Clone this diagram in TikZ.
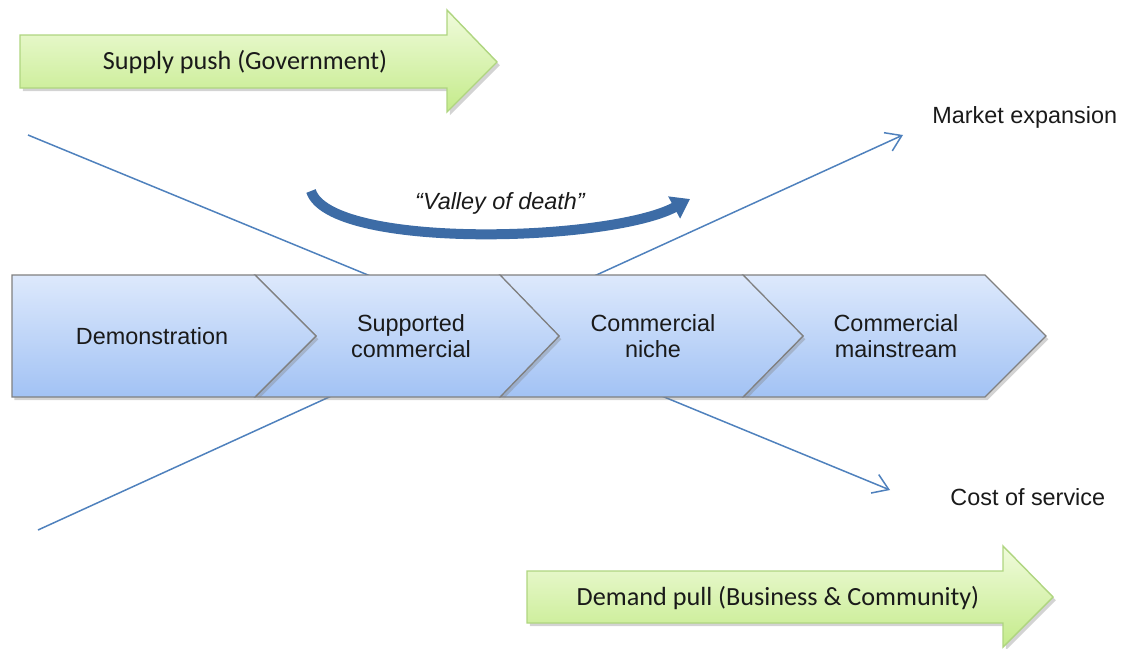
\documentclass[tikz,border=0pt]{standalone}
\usepackage{fontspec}
\setmainfont{Liberation Sans}
\newfontfamily\calibri{Carlito}
\usetikzlibrary{arrows.meta,shadows}
\definecolor{lineblue}{HTML}{4F81BD}
\definecolor{valleyblue}{HTML}{3D6CA6}
\definecolor{chevtop}{HTML}{DDE9FC}
\definecolor{chevbot}{HTML}{A2C2F4}
\definecolor{chevedge}{HTML}{808080}
\definecolor{greentop}{HTML}{F0FBDC}
\definecolor{greenbot}{HTML}{C4EB8A}
\definecolor{greenedge}{HTML}{AFD580}
\definecolor{ink}{HTML}{1A1A1A}
\tikzset{
  chevron/.style={draw=chevedge, line width=0.6pt, top color=chevtop, bottom color=chevbot,
    line join=miter, drop shadow={opacity=0.35, shadow xshift=1.2pt, shadow yshift=-1.6pt}},
  greenarrow/.style={draw=greenedge, line width=0.7pt, top color=greentop, bottom color=greenbot,
    drop shadow={opacity=0.35, shadow xshift=1.4pt, shadow yshift=-1.6pt}},
  stagetext/.style={text=ink, font=\fontsize{11.7pt}{13.2pt}\selectfont, align=center},
  labeltext/.style={text=ink, font=\fontsize{11.7pt}{13.2pt}\selectfont, anchor=west, inner sep=0pt},
  greentext/.style={text=ink, font=\calibri\fontsize{13.1pt}{15pt}\selectfont},
  trend/.style={draw=lineblue, line width=0.75pt, -{Straight Barb[length=7.5pt,width=10pt]}},
}
\begin{document}
\begin{tikzpicture}[x=0.5pt, y=-0.5pt]
\useasboundingbox (0,0) rectangle (1124,648);

% crossing trend lines (behind the stage band)
\coordinate (s1) at (28,135);
\coordinate (e1) at (890,490);
\coordinate (s2) at (38,530);
\coordinate (e2) at (903,135);
\draw[trend] (s1) -- (e1);
\draw[trend] (s2) -- (e2);

% supply push arrow
\path[greenarrow] (20,35) -- (447,35) -- (447,10) -- (497,62) -- (447,112) -- (447,88) -- (20,88) -- cycle;
\node[greentext] (push) at (245,62) {Supply push (Government)};

% demand pull arrow
\path[greenarrow] (527,571) -- (1003,571) -- (1003,546) -- (1053,597) -- (1003,647) -- (1003,623) -- (527,623) -- cycle;
\node[greentext] (pull) at (778,598) {Demand pull (Business \& Community)};

% stage chevrons
\path[chevron] (743,275) -- (985,275) -- (1046,336) -- (985,397) -- (743,397) -- (803,336) -- cycle;
\path[chevron] (500,275) -- (743,275) -- (803,336) -- (743,397) -- (500,397) -- (559,336) -- cycle;
\path[chevron] (255,275) -- (500,275) -- (559,336) -- (500,397) -- (255,397) -- (316,336) -- cycle;
\path[chevron] (12,275) -- (255,275) -- (316,336) -- (255,397) -- (12,397) -- cycle;

\node[stagetext] (demo) at (152,336) {Demonstration};
\node[stagetext] (supp) at (411,336) {Supported\\commercial};
\node[stagetext] (niche) at (653,336) {Commercial\\niche};
\node[stagetext] (main) at (896,336) {Commercial\\mainstream};

% valley of death arrow
\coordinate (v1) at (311,191);
\coordinate (v2) at (690,199);
\draw[valleyblue, line width=5pt, -{Triangle[length=9pt,width=12pt]}]
  (v1) .. controls (330,250) and (610,242) .. (v2);
\node[text=ink, font=\itshape\fontsize{11.7pt}{13.2pt}\selectfont] (valley) at (500,203) {``Valley of death''};

% outcome labels
\node[labeltext] (market) at (932,117) {Market expansion};
\node[labeltext] (cost) at (950,497) {Cost of service};
\end{tikzpicture}
\end{document}
